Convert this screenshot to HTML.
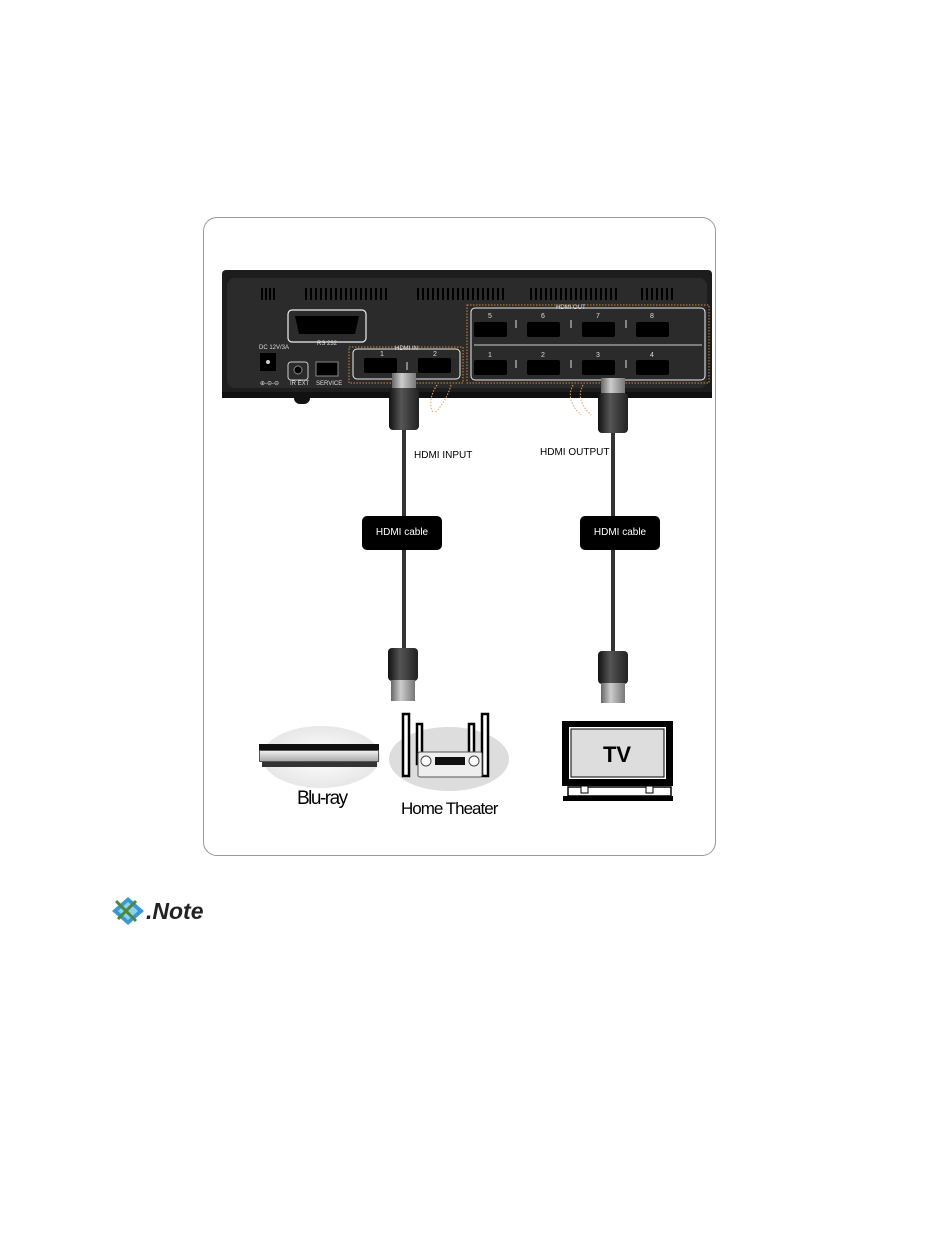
<!DOCTYPE html>
<html><head><style>
body{margin:0;width:950px;height:1244px;background:#fff;position:relative;font-family:"Liberation Sans",sans-serif;overflow:hidden}
.a{position:absolute}
.port{position:absolute;width:33px;height:15px;background:#000;border-radius:2px}
.num{position:absolute;color:#ddd;font-size:7px}
.lab{position:absolute;background:#000;color:#fff;font-size:10px;border-radius:5px;width:80px;height:34px;line-height:34px;text-align:center}
.cable{position:absolute;width:4px;background:#333}
.head{position:absolute;width:30px;background:linear-gradient(90deg,#111,#555 40%,#222);border-radius:4px}
.boot{position:absolute;width:24px;background:linear-gradient(90deg,#666,#ccc 40%,#777)}
</style></head><body>
<div class="a" style="left:203px;top:217px;width:511px;height:637px;border:1px solid #999;border-radius:14px"></div>
<!-- device -->
<div class="a" style="left:222px;top:270px;width:490px;height:126px;background:#1d1d1d;border-radius:4px"></div>
<div class="a" style="left:227px;top:278px;width:480px;height:110px;background:#2b2b2b;border-radius:8px"></div>
<div class="a" style="left:222px;top:392px;width:490px;height:6px;background:#111"></div>
<div class="a" style="left:294px;top:397px;width:16px;height:7px;background:#111;border-radius:0 0 6px 6px"></div>
<svg class="a" style="left:0;top:0" width="950" height="450">
<g stroke="#000" stroke-width="2">
<path d="M262 288v12M266 288v12M270 288v12M274 288v12"/>
<path d="M306 288v12M311 288v12M316 288v12M321 288v12M326 288v12M331 288v12M336 288v12M341 288v12M346 288v12M351 288v12M356 288v12M361 288v12M366 288v12M371 288v12M376 288v12M381 288v12M386 288v12"/>
<path d="M418 288v12M423 288v12M428 288v12M433 288v12M438 288v12M443 288v12M448 288v12M453 288v12M458 288v12M463 288v12M468 288v12M473 288v12M478 288v12M483 288v12M488 288v12M493 288v12M498 288v12M503 288v12"/>
<path d="M531 288v12M536 288v12M541 288v12M546 288v12M551 288v12M556 288v12M561 288v12M566 288v12M571 288v12M576 288v12M581 288v12M586 288v12M591 288v12M596 288v12M601 288v12M606 288v12M611 288v12M616 288v12"/>
<path d="M642 288v12M647 288v12M652 288v12M657 288v12M662 288v12M667 288v12M672 288v12"/>
</g>
<rect x="288" y="310" width="78" height="32" rx="4" fill="none" stroke="#eee" stroke-width="1.2"/>
<path d="M295 316h64l-4 18h-56z" fill="#000"/>
<rect x="260" y="353" width="16" height="18" fill="#000"/><circle cx="268" cy="362" r="2" fill="#ccc"/>
<rect x="288" y="362" width="20" height="18" rx="3" fill="none" stroke="#ccc"/><circle cx="298" cy="370" r="4" fill="#000" stroke="#888"/>
<rect x="316" y="362" width="22" height="14" fill="#000" stroke="#888"/>
<rect x="349" y="347" width="114" height="36" fill="none" stroke="#d88a3a" stroke-dasharray="1.5 1.5"/>
<rect x="353" y="349" width="107" height="30" rx="4" fill="none" stroke="#eee"/>
<rect x="467" y="305" width="242" height="78" fill="none" stroke="#d88a3a" stroke-dasharray="1.5 1.5"/>
<rect x="471" y="308" width="234" height="72" rx="4" fill="none" stroke="#eee"/>
<line x1="474" y1="345" x2="702" y2="345" stroke="#ccc"/>
<g stroke="#ddd"><path d="M407 362v8M516 320v8M571 320v8M626 320v8M516 360v8M571 360v8M626 360v8"/></g>
<g fill="none" stroke="#e8a060" stroke-dasharray="1.5 1.5"><path d="M437 385q-10 15 -4 28M451 385q-4 15 -16 28M573 385q-8 15 8 30M583 385q-8 15 8 30"/></g>
<g font-size="6" fill="#ddd" font-family="Liberation Sans"><text x="259" y="349">DC 12V/3A</text><text x="317" y="345">RS 232</text><text x="395" y="350">HDMI IN</text><text x="556" y="309">HDMI OUT</text><text x="290" y="385">IR EXT</text><text x="316" y="385">SERVICE</text><text x="260" y="385">⊕-⊖-⊖</text></g>
</svg>
<div class="port" style="left:364px;top:358px"></div><div class="port" style="left:418px;top:358px"></div>
<div class="num" style="left:380px;top:351px">1</div><div class="num" style="left:433px;top:351px">2</div>
<div class="port" style="left:474px;top:322px"></div><div class="port" style="left:527px;top:322px"></div><div class="port" style="left:582px;top:322px"></div><div class="port" style="left:636px;top:322px"></div>
<div class="port" style="left:474px;top:360px"></div><div class="port" style="left:527px;top:360px"></div><div class="port" style="left:582px;top:360px"></div><div class="port" style="left:636px;top:360px"></div>
<div class="num" style="left:488px;top:313px">5</div><div class="num" style="left:541px;top:313px">6</div><div class="num" style="left:596px;top:313px">7</div><div class="num" style="left:650px;top:313px">8</div>
<div class="num" style="left:488px;top:352px">1</div><div class="num" style="left:541px;top:352px">2</div><div class="num" style="left:596px;top:352px">3</div><div class="num" style="left:650px;top:352px">4</div>
<!-- cables -->
<div class="cable" style="left:402px;top:400px;height:260px"></div>
<div class="cable" style="left:611px;top:400px;height:260px"></div>
<div class="boot" style="left:392px;top:373px;height:16px"></div>
<div class="head" style="left:389px;top:388px;height:42px"></div>
<div class="boot" style="left:601px;top:378px;height:16px"></div>
<div class="head" style="left:598px;top:393px;height:40px"></div>
<div class="head" style="left:388px;top:648px;height:33px"></div>
<div class="boot" style="left:391px;top:680px;height:21px"></div>
<div class="head" style="left:598px;top:651px;height:33px"></div>
<div class="boot" style="left:601px;top:683px;height:20px"></div>
<div class="lab" style="left:362px;top:516px">HDMI cable</div>
<div class="lab" style="left:580px;top:516px">HDMI cable</div>
<div class="a" style="left:414px;top:450px;font-size:10px">HDMI INPUT</div>
<div class="a" style="left:540px;top:447px;font-size:10px">HDMI OUTPUT</div>
<!-- devices -->
<div class="a" style="left:262px;top:726px;width:118px;height:62px;border-radius:50%;background:radial-gradient(#fff,#ddd)"></div>
<div class="a" style="left:259px;top:744px;width:120px;height:6px;background:#111"></div>
<div class="a" style="left:259px;top:750px;width:120px;height:12px;background:linear-gradient(#eee,#aaa);border:1px solid #555;box-sizing:border-box"></div>
<div class="a" style="left:262px;top:762px;width:115px;height:5px;background:#333"></div>
<div class="a" style="left:389px;top:727px;width:120px;height:64px;border-radius:50%;background:#ddd"></div>
<svg class="a" style="left:390px;top:712px" width="120" height="70">
<g fill="#fff" stroke="#000" stroke-width="2.5"><rect x="13" y="2" width="6" height="62"/><rect x="92" y="2" width="6" height="62"/><rect x="27" y="12" width="5" height="40"/><rect x="79" y="12" width="5" height="40"/></g>
<rect x="28" y="40" width="64" height="25" rx="2" fill="#eee" stroke="#555"/><rect x="45" y="45" width="30" height="8" fill="#111"/>
<circle cx="36" cy="49" r="5" fill="#fff" stroke="#444"/><circle cx="84" cy="49" r="5" fill="#fff" stroke="#444"/>
</svg>
<div class="a" style="left:297px;top:788px;font-size:19px;letter-spacing:-1.5px">Blu-ray</div>
<div class="a" style="left:401px;top:799px;font-size:17px;letter-spacing:-1px">Home Theater</div>
<svg class="a" style="left:560px;top:720px" width="116" height="82">
<rect x="2" y="1" width="111" height="65" fill="#000"/><rect x="9" y="7" width="97" height="52" fill="#fff" stroke="none"/><rect x="11" y="9" width="93" height="48" fill="#ddd" stroke="#000"/>
<rect x="8" y="67" width="103" height="9" fill="#fff" stroke="#000" stroke-width="1.5"/><rect x="3" y="76" width="110" height="5" fill="#000"/>
<rect x="21" y="66" width="7" height="7" fill="#fff" stroke="#000"/><rect x="86" y="66" width="7" height="7" fill="#fff" stroke="#000"/>
<text x="57" y="42" text-anchor="middle" font-family="Liberation Sans" font-weight="bold" font-size="22">TV</text>
</svg>
<!-- note -->
<svg class="a" style="left:108px;top:893px" width="40" height="36">
<path d="M4 18 L20 4 L36 18 L20 32Z" fill="#3a9ad0"/><path d="M10 18 L20 9 L30 18 L20 27Z" fill="#8fd0ee"/><path d="M8 8 L28 28 M28 8 L10 26" stroke="#4a8a3a" stroke-width="3"/>
</svg>
<div class="a" style="left:146px;top:898px;font-size:23px;font-weight:bold;font-style:italic;color:#222">.Note</div>
</body></html>
